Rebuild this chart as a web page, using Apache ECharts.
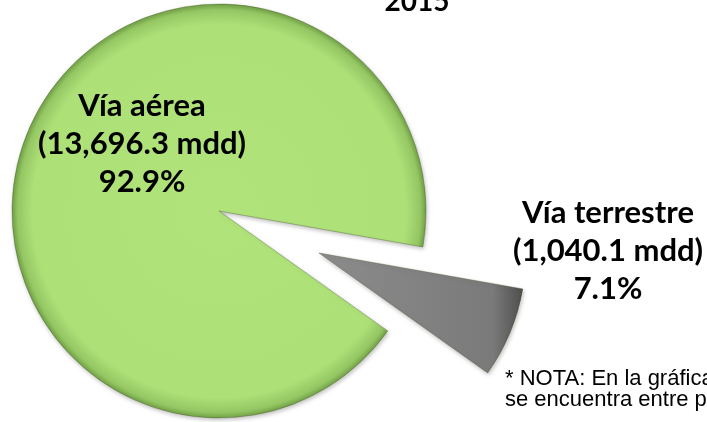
<!DOCTYPE html>
<html>
<head>
<meta charset="utf-8">
<script src="https://cdn.jsdelivr.net/npm/echarts@6/dist/echarts.min.js"></script>
<style>
  html, body { margin: 0; padding: 0; background: #fff; }
  #pieChart { width: 707px; height: 422px; }
</style>
</head>
<body>
<div id="pieChart"></div>
<script>
// data
var title = '2015';
var categories = ['Vía terrestre', 'Vía aérea'];
var values = [1040.1, 13696.3];
var percents = ['7.1%', '92.9%'];
var noteLines = ['* NOTA: En la gráfica el valor de las exportaciones', 'se encuentra entre paréntesis.'];

var pieDom = document.getElementById('pieChart');
var myPieChart = echarts.init(pieDom);

// slice fills
var greenFill = {
  type: 'radial', x: 0.5, y: 0.5, r: 0.5,
  colorStops: [
    { offset: 0, color: '#b1e37b' },
    { offset: 0.9, color: '#ade077' },
    { offset: 0.97, color: '#94c763' },
    { offset: 1, color: '#6f9d44' }
  ]
};
var greyFill = {
  type: 'linear', x: 0, y: 0, x2: 1, y2: 0,
  colorStops: [
    { offset: 0, color: '#8c8c8c' },
    { offset: 0.85, color: '#7a7a7a' },
    { offset: 1, color: '#4e4e4e' }
  ]
};
var fills = [greyFill, greenFill];

function fmt(v) {
  return v.toLocaleString('en-US', { minimumFractionDigits: 1, maximumFractionDigits: 1 });
}

// the exploded slice is drawn by a second pie whose centre is moved out
// along the slice's middle angle; each series hides the other's slice
function sliceData(visibleIndex) {
  return categories.map(function (name, i) {
    var shown = i === visibleIndex;
    return {
      name: name,
      value: values[i],
      itemStyle: shown ? { color: fills[i] } : { color: 'rgba(0,0,0,0)', borderWidth: 0, shadowBlur: 0, shadowColor: 'rgba(0,0,0,0)' },
      label: { show: shown }
    };
  });
}

var labelText = {
  show: true,
  position: 'inside',
  formatter: function (p) {
    return p.name + '\n(' + fmt(p.value) + ' mdd)\n' + percents[p.dataIndex];
  },
  fontFamily: 'Lato',
  fontWeight: 'bold',
  fontSize: 31,
  lineHeight: 38,
  color: '#000',
  align: 'center'
};

var sliceStyle = {
  borderColor: 'rgba(60,80,30,0.35)',
  borderWidth: 1,
  shadowBlur: 4,
  shadowColor: 'rgba(0,0,0,0.25)',
  shadowOffsetX: 1,
  shadowOffsetY: 2
};

var option = {
  animation: false,
  title: {
    text: title,
    left: 412,
    top: -17,
    textAlign: 'center',
    textStyle: { fontFamily: 'Lato', fontWeight: 'bold', fontSize: 28, color: '#000' }
  },
  graphic: [
    {
      type: 'text',
      left: 505,
      top: 368,
      style: {
        text: noteLines.join('\n'),
        fontFamily: 'Liberation Sans',
        fontSize: 22,
        lineHeight: 21,
        fill: '#000'
      }
    }
  ],
  series: [
    {
      type: 'pie',
      center: [219, 211],
      radius: 207,
      startAngle: -10,
      clockwise: true,
      silent: true,
      data: sliceData(1),
      itemStyle: sliceStyle,
      label: labelText,
      labelLine: { show: false },
      labelLayout: function () {
        return { x: 142, y: 144, align: 'center', verticalAlign: 'middle' };
      }
    },
    {
      type: 'pie',
      center: [319, 253],
      radius: 207,
      startAngle: -10,
      clockwise: true,
      silent: true,
      data: sliceData(0),
      itemStyle: sliceStyle,
      label: labelText,
      labelLine: { show: false },
      labelLayout: function () {
        return { x: 608, y: 251, align: 'center', verticalAlign: 'middle' };
      }
    }
  ]
};

myPieChart.setOption(option);
</script>
</body>
</html>
